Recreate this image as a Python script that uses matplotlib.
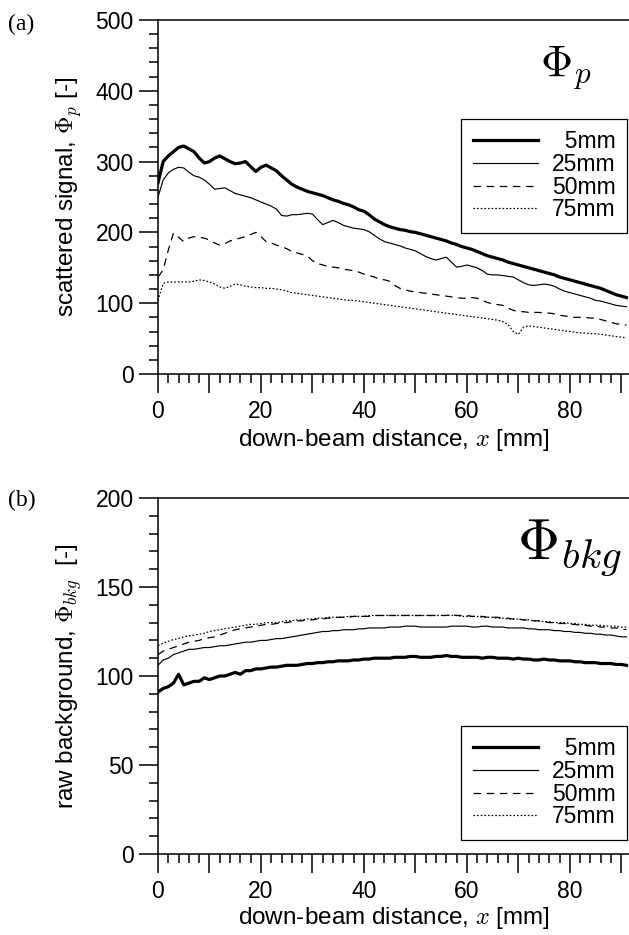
import matplotlib
matplotlib.use("Agg")
import matplotlib.pyplot as plt
from matplotlib.ticker import MultipleLocator, FuncFormatter
import numpy as np

plt.rcParams['font.family'] = ['Liberation Sans', 'DejaVu Sans']
plt.rcParams['mathtext.fontset'] = 'cm'

# ---------------- data ----------------
x_mm = list(range(0, 92))

labels = ['5mm', '25mm', '50mm', '75mm']

phi_p_5mm = [270, 300, 308, 314, 320, 322, 318, 314, 305, 298, 300, 305, 308, 304, 300, 297, 298, 300, 293, 286,
             292, 295, 291, 287, 280, 274, 268, 264, 261, 258, 256, 254, 252, 249, 246, 244, 241, 239, 236, 232,
             230, 225, 219, 215, 211, 208, 206, 204, 203, 201, 200, 198, 196, 194, 192, 190, 188, 185, 183, 180,
             178, 176, 173, 170, 167, 165, 163, 161, 158, 156, 154, 152, 150, 148, 146, 144, 142, 140, 137, 135,
             133, 131, 129, 127, 125, 123, 121, 118, 115, 112, 110, 108]
phi_p_25mm = [250, 274, 284, 289, 292, 291, 285, 280, 278, 274, 268, 261, 262, 263, 259, 255, 253, 251, 249, 246,
              243, 240, 237, 233, 224, 223, 225, 225, 226, 227, 226, 218, 211, 214, 217, 214, 210, 208, 206, 205,
              204, 201, 196, 191, 187, 185, 183, 181, 178, 176, 174, 170, 166, 163, 161, 163, 165, 158, 151, 152,
              154, 152, 150, 146, 141, 140, 140, 139, 138, 137, 133, 129, 126, 125, 126, 127, 126, 124, 120, 117,
              115, 113, 111, 109, 107, 104, 103, 101, 99, 97, 96, 95]
phi_p_50mm = [137, 147, 175, 199, 193, 187, 192, 194, 193, 192, 189, 185, 182, 184, 188, 190, 192, 194, 197, 200,
              194, 187, 185, 182, 180, 177, 173, 171, 169, 167, 160, 156, 154, 152, 151, 150, 148, 147, 146, 144,
              141, 139, 137, 134, 133, 131, 125, 121, 119, 117, 116, 115, 114, 113, 112, 111, 110, 109, 108, 107,
              107, 108, 107, 104, 101, 99, 98, 97, 93, 90, 88, 88, 87, 87, 87, 86, 86, 85, 83, 82,
              81, 80, 80, 80, 79, 79, 77, 75, 73, 71, 70, 69]
phi_p_75mm = [104, 128, 130, 130, 130, 130, 130, 131, 133, 132, 130, 127, 123, 121, 124, 127, 126, 124, 123, 122,
              122, 121, 121, 120, 119, 117, 115, 114, 113, 112, 111, 110, 109, 108, 107, 106, 105, 104, 104, 103,
              102, 101, 100, 99, 98, 97, 96, 95, 94, 93, 92, 91, 90, 89, 88, 87, 86, 85, 84, 83,
              82, 81, 80, 79, 78, 77, 76, 74, 70, 60, 56, 66, 68, 67, 66, 65, 64, 63, 62, 61,
              60, 59, 58, 58, 57, 57, 56, 55, 54, 53, 52, 51]

phi_bkg_5mm = [91, 93, 94, 96, 101, 95, 96, 97, 97, 99, 98, 99, 100, 100, 101, 102, 101, 103, 103, 104,
               104, 104.5, 105, 105, 105.5, 106, 106, 106, 106.5, 107, 107, 107.5, 107.5, 108, 108, 108.5, 108.5, 108.5, 109, 109,
               109.5, 109.5, 110, 110, 110, 110, 110.5, 110.5, 110.5, 111, 111, 110.5, 110.5, 110.5, 111, 111, 111.5, 111, 111, 110.5,
               110.5, 110.5, 110.5, 110, 110.5, 110.5, 110, 110, 110, 109.5, 110, 109.5, 109.5, 109, 109, 109.5, 109, 109, 108.5, 108.5,
               108.5, 108, 108, 107.5, 107.5, 107.5, 107, 107, 107, 106.5, 106.5, 106]
phi_bkg_25mm = [106, 109, 110, 112, 113, 114, 115, 115, 115.5, 116, 116, 116.5, 117, 117, 117.5, 118, 118.5, 119, 119, 119.5,
                120, 120, 120.5, 121, 121, 121.5, 122, 122.5, 123, 123.5, 124, 124.5, 125, 125, 125.5, 125.5, 126, 126, 126, 126.5,
                126.5, 127, 127, 127, 127, 127.5, 127.5, 127.5, 128, 128, 128, 127.5, 127.5, 127.5, 127.5, 127.5, 127.5, 128, 128, 128,
                128, 127.5, 127.5, 128, 128, 127.5, 127.5, 127.5, 127, 127, 127, 127, 126.5, 126.5, 126, 126, 126, 125.5, 125.5, 125,
                125, 124.5, 124.5, 124, 124, 123.5, 123.5, 123, 123, 122.5, 122, 122]
phi_bkg_50mm = [112, 114, 115, 116, 117, 118, 119, 119.5, 120, 121, 121.5, 122, 123, 124, 125, 126, 126.5, 127, 127.5, 128,
                128.5, 129, 129, 129.5, 130, 130, 130.5, 131, 131, 131.5, 131.5, 132, 132, 132.5, 132.5, 133, 133, 133, 133.5, 133.5,
                133.5, 133.5, 134, 134, 134, 134, 134, 134, 134, 134, 134, 134, 134, 134, 134, 134, 134, 134.5, 134, 134,
                134, 133.5, 133.5, 133.5, 133, 133, 133, 132.5, 132.5, 132, 132, 131.5, 131.5, 131, 131, 130.5, 130, 130, 129.5, 129.5,
                129, 129, 128.5, 128.5, 128, 128, 127.5, 127.5, 127, 127, 126.5, 126]
phi_bkg_75mm = [117, 118.5, 119.5, 120.5, 121, 122, 122.5, 123, 123.5, 124, 125, 125.5, 126, 126.5, 127, 127.5, 128, 128.5, 129, 129,
                129.5, 130, 130, 130, 130.5, 131, 131, 131.5, 131.5, 132, 132, 132.5, 132.5, 133, 133, 133, 133, 133.5, 133.5, 133.5,
                133.5, 134, 134, 134, 134, 134, 134, 134, 134, 134, 134, 134, 134, 134, 134, 134, 134, 134, 134, 133.5,
                133.5, 133.5, 133.5, 133, 133, 133, 132.5, 132.5, 132, 132, 132, 131.5, 131.5, 131, 131, 130.5, 130.5, 130, 130, 130,
                129.5, 129.5, 129, 129, 128.5, 128.5, 128.5, 128, 128, 128, 127.5, 127.5]

# ---------------- figure ----------------
W, H = 629, 935
fig = plt.figure(figsize=(W / 100, H / 100), dpi=100)

left = 158 / W
width = 471 / W
ax1 = fig.add_axes([left, (H - 374) / H, width, 354 / H])
ax2 = fig.add_axes([left, (H - 854) / H, width, 356 / H])

styles = [dict(color='black', lw=2.3, linestyle='-'),
          dict(color='black', lw=0.85, linestyle='-'),
          dict(color='black', lw=0.9, linestyle=(0, (6, 4.5))),
          dict(color='black', lw=0.9, linestyle=(0, (1.3, 1.6)))]

TFS = 16.5   # tick labels / legend
LFS = 17.5   # axis labels

def style_axes(ax, ymax, ymaj, ymin):
    ax.set_xlim(0, 91.5)
    ax.set_ylim(0, ymax)
    ax.spines['right'].set_visible(False)
    for s in ['left', 'bottom', 'top']:
        ax.spines[s].set_linewidth(1.1)
    ax.xaxis.set_major_locator(MultipleLocator(10))
    ax.xaxis.set_minor_locator(MultipleLocator(2))
    ax.xaxis.set_major_formatter(FuncFormatter(lambda v, p: f"{int(round(v))}" if int(round(v)) % 20 == 0 else ""))
    ax.yaxis.set_major_locator(MultipleLocator(ymaj))
    ax.yaxis.set_minor_locator(MultipleLocator(ymin))
    ax.tick_params(which='both', direction='out', top=False, right=False, labelsize=TFS, width=1.1)
    ax.tick_params(which='major', length=13.5)
    ax.tick_params(which='minor', length=6.5)
    ax.tick_params(axis='y', which='major', pad=4)
    ax.tick_params(axis='x', which='major', pad=5)

series_p = [phi_p_5mm, phi_p_25mm, phi_p_50mm, phi_p_75mm]
series_b = [phi_bkg_5mm, phi_bkg_25mm, phi_bkg_50mm, phi_bkg_75mm]
leg_labels = ['  ' + labels[0], labels[1], labels[2], labels[3]]

for ax, series in [(ax1, series_p), (ax2, series_b)]:
    for ys, st, lab in zip(series, styles, leg_labels):
        ax.plot(x_mm, ys, label=lab, **st)

style_axes(ax1, 500, 100, 20)
style_axes(ax2, 200, 50, 10)

ax1.set_xlabel('down-beam distance, $x$ [mm]', fontsize=LFS, labelpad=3)
ax2.set_xlabel('down-beam distance, $x$ [mm]', fontsize=LFS, labelpad=2)
ax1.set_ylabel('scattered signal, $\\Phi_p$ [-]', fontsize=LFS, labelpad=8)
ax2.set_ylabel('raw background, $\\Phi_{bkg}$  [-]', fontsize=LFS, labelpad=8)

ax1.text(0.921, 0.864, '$\\Phi_p$', transform=ax1.transAxes, fontsize=32, ha='right', va='center')
ax2.text(0.985, 0.86, '$\\Phi_{bkg}$', transform=ax2.transAxes, fontsize=42, ha='right', va='center')

for ax, ytop in [(ax1, (374 - 119) / 354), (ax2, (854 - 726) / 356)]:
    leg = ax.legend(loc='upper right', bbox_to_anchor=(0.996, ytop), borderaxespad=0,
                    fontsize=TFS, frameon=True, fancybox=False, framealpha=1,
                    edgecolor='black', handlelength=2.85, handletextpad=0.6,
                    labelspacing=-0.02, borderpad=0.5)
    leg.get_frame().set_linewidth(0.9)

fig.text(8 / W, 1 - 24 / H, '(a)', fontsize=17, family='Liberation Serif', va='center', ha='left')
fig.text(8 / W, 1 - 500 / H, '(b)', fontsize=17, family='Liberation Serif', va='center', ha='left')

fig.savefig('out.png', dpi=100)
